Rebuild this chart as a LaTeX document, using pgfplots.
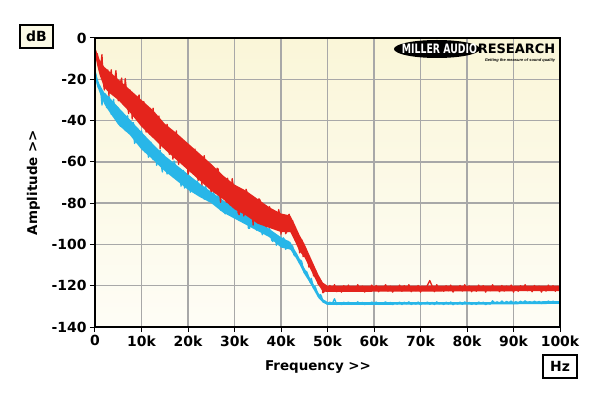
\documentclass[border=0pt]{standalone}
\usepackage{pgfplots}
\pgfplotsset{compat=1.18}
\usetikzlibrary{shapes.geometric}
\usepackage{fontspec}
\setmainfont{DejaVu Sans}
\newfontfamily\libsans{Liberation Sans}
\definecolor{tracered}{RGB}{228,36,28}
\definecolor{traceblue}{RGB}{40,182,232}
\definecolor{gridgray}{RGB}{168,168,168}
\definecolor{bgtop}{RGB}{250,246,216}
\definecolor{bgbot}{RGB}{254,253,246}
\definecolor{boxfill}{RGB}{252,250,230}
\begin{document}
\begin{tikzpicture}
\begin{axis}[
  name=ax,
  scale only axis, width=465bp, height=289bp,
  xmin=0, xmax=100, ymin=-140, ymax=0,
  xtick={0,10,20,30,40,50,60,70,80,90,100},
  xticklabels={0,10k,20k,30k,40k,50k,60k,70k,80k,90k,100k},
  ytick={-140,-120,-100,-80,-60,-40,-20,0},
  yticklabels={-140,-120,-100,-80,-60,-40,-20,0},
  tick label style={font=\bfseries\fontsize{14}{14}\selectfont},
  tick align=outside, xtick pos=bottom, ytick pos=left,
  major tick length=5bp,
  tick style={black, line width=1bp},
  grid=major,
  major grid style={gridgray, line width=1.3bp},
  axis line style={line width=1.8bp, black},
  axis background/.style={top color=bgtop, bottom color=bgbot},
  xlabel={Frequency >{}>},
  ylabel={Amplitude >{}>},
  label style={font=\bfseries\fontsize{13.5}{13.5}\selectfont},
  xlabel style={at={(axis description cs:0.4796,-0.1522)}, anchor=base},
  ylabel style={at={(axis description cs:-0.1323,0.5)}, anchor=center},
]
% blue: core band of the trace
\addplot[fill=traceblue, draw=none] coordinates {
(0,-15.5) (0.5,-19.5) (1,-22.5) (2,-26.5) (3,-28.5) (5,-33.5) (7.5,-39.5) (10,-45.5) (12.5,-51.5) (15,-57) (17.5,-61.5) (20,-66) (22.5,-70.5) (25,-74.5) (27.5,-78.5) (30,-82.5) (32.5,-85.5) (35,-88.5) (37.5,-92.5) (40,-96.5) (42,-98.8) (43,-102.8) (44,-106.8) (45,-111.3) (46,-115.3) (47,-119.3) (48,-123.3) (49,-126.5) (50,-127.9) (85,-127.9) (100,-127.4) (100,-128.8) (85,-129.1) (50,-129.3) (49,-128.2) (48,-125.8) (47,-121.8) (46,-117.8) (45,-114.3) (44,-109.8) (43,-105.8) (42,-102.5) (40,-101.5) (37.5,-96.5) (35,-93.5) (32.5,-90.5) (30,-87.5) (27.5,-84.5) (25,-80) (22.5,-77) (20,-73.5) (17.5,-69) (15,-64.5) (12.5,-59) (10,-54) (7.5,-47) (5,-42) (3,-35.5) (2,-32) (1,-26.5) (0.5,-23.5) (0,-19)
};
\addplot[traceblue, line width=1.3bp, line join=round, no markers] coordinates {
(0,-16) (0.25,-18.1) (0.5,-22.2) (0.75,-24.2) (1,-23.2) (1.25,-25.7) (1.5,-32.5) (1.75,-29.3) (2,-28) (2.25,-27.1) (2.5,-33.7) (2.75,-33.8) (3,-28.3) (3.25,-30.4) (3.5,-37) (3.75,-34.1) (4,-29.7) (4.25,-36.3) (4.5,-37.3) (4.75,-33.4) (5,-34) (5.25,-41.7) (5.5,-42.8) (5.75,-38) (6,-37.1) (6.25,-38.3) (6.5,-44.9) (6.75,-44.1) (7,-37.7) (7.25,-42.4) (7.5,-44.5) (7.75,-45.7) (8,-41.3) (8.25,-41) (8.5,-51.1) (8.75,-49.8) (9,-45.4) (9.25,-46.6) (9.5,-51.7) (9.75,-49.9) (10,-45) (10.25,-48.1) (10.5,-53.6) (10.75,-55.2) (11,-50.7) (11.25,-51.8) (11.5,-57.8) (11.75,-55.9) (12,-50.4) (12.25,-52) (12.5,-59) (12.75,-54.6) (13,-53.6) (13.25,-61.7) (13.5,-59.7) (13.75,-57.8) (14,-54.3) (14.25,-61.9) (14.5,-64.9) (14.75,-56.5) (15,-58.5) (15.25,-62.5) (15.5,-65.9) (15.75,-60.4) (16,-59.3) (16.25,-63.3) (16.5,-65.2) (16.75,-67.2) (17,-59.6) (17.25,-61.6) (17.5,-68.5) (17.75,-67.5) (18,-64.4) (18.25,-64.4) (18.5,-71.8) (18.75,-66.8) (19,-64.2) (19.25,-72.7) (19.5,-71.6) (19.75,-69.1) (20,-67) (20.25,-67.4) (20.5,-74.7) (20.75,-73.1) (21,-70.2) (21.25,-70.6) (21.5,-74.9) (21.75,-75.3) (22,-69.2) (22.25,-71.6) (22.5,-75.1) (22.75,-73.9) (23,-71.4) (23.25,-75.4) (23.5,-78.1) (23.75,-71.7) (24,-73.6) (24.25,-77.2) (24.5,-78.7) (24.75,-74.7) (25,-77) (25.25,-79.8) (25.5,-74.5) (25.75,-77.7) (26,-80.8) (26.25,-80.4) (26.5,-75.1) (26.75,-76.7) (27,-83.4) (27.25,-79.4) (27.5,-79.3) (27.75,-84.1) (28,-85.2) (28.25,-80) (28.5,-79.1) (28.75,-82.7) (29,-84.2) (29.25,-80.6) (29.5,-79.7) (29.75,-86.5) (30,-87.2) (30.25,-83.2) (30.5,-82.7) (30.75,-85.1) (31,-88.2) (31.25,-87.8) (31.5,-82.1) (31.75,-83.3) (32,-88.8) (32.25,-88) (32.5,-85.1) (32.75,-85.9) (33,-92.2) (33.25,-92.2) (33.5,-88.1) (33.75,-88.9) (34,-92) (34.25,-88.4) (34.5,-86.7) (34.75,-93.1) (35,-92.2) (35.25,-90.6) (35.5,-89.4) (35.75,-93.1) (36,-95.3) (36.25,-90.3) (36.5,-92.2) (36.75,-95) (37,-94.8) (37.25,-94.6) (37.5,-92) (37.75,-94.5) (38,-97.9) (38.25,-98.6) (38.5,-94.8) (38.75,-95.2) (39,-100.4) (39.25,-98.1) (39.5,-97.3) (39.75,-98) (40,-100.5) (40.25,-101.1) (40.5,-96.8) (40.75,-97.7) (41,-102.4) (41.25,-101.2) (41.5,-98.4) (41.75,-99.3) (42,-102.2) (42.25,-101.5) (42.5,-100.7) (42.75,-104.9) (43,-105.6) (43.25,-104.3) (43.5,-105.6) (43.75,-107.4) (44,-109.1) (44.25,-107.6) (44.5,-108.6) (44.75,-111.9) (45,-113.8) (45.25,-113) (45.5,-113.1) (45.75,-114.5) (46,-116.5) (46.25,-118.3) (46.5,-116.4) (46.75,-118.6) (47,-121.3) (47.25,-120.1) (47.5,-121.3) (47.75,-123.1) (48,-125.1) (48.25,-125.2) (48.5,-124.3) (48.75,-125.5) (49,-127.5) (49.25,-127.4) (49.5,-127.6) (49.75,-128.5) (50,-129)
(50.5,-127.9) (51,-128.9) (51.5,-126.3) (52,-129.1) (52.5,-128.3) (53,-129.2) (53.5,-128.0) (54,-128.8) (54.5,-127.9) (55,-129.1) (55.5,-128.2) (56,-129.0) (56.5,-127.8) (57,-128.9) (57.5,-128.1) (58,-129.2) (58.5,-128.4) (59,-128.9) (59.5,-127.9) (60,-128.7) (60.5,-127.9) (61,-129.1) (61.5,-128.2) (62,-128.6) (62.5,-127.8) (63,-129.0) (63.5,-128.1) (64,-129.2) (64.5,-128.3) (65,-128.9) (65.5,-127.9) (66,-129.1) (66.5,-128.0) (67,-128.8) (67.5,-127.8) (68,-129.1) (68.5,-128.4) (69,-128.9) (69.5,-127.9) (70,-129.2) (70.5,-128.2) (71,-128.7) (71.5,-127.9) (72,-129.0) (72.5,-128.1) (73,-129.1) (73.5,-127.8) (74,-128.8) (74.5,-128.3) (75,-129.1) (75.5,-128.0) (76,-128.9) (76.5,-127.9) (77,-129.2) (77.5,-128.2) (78,-128.9) (78.5,-127.9) (79,-129.0) (79.5,-127.8) (80,-128.7) (80.5,-128.1) (81,-129.1) (81.5,-128.2) (82,-129.1) (82.5,-127.9) (83,-128.6) (83.5,-128.0) (84,-129.2) (84.5,-128.2) (85,-128.9) (85.5,-127.3) (86,-128.4) (86.5,-127.8) (87,-128.6) (87.5,-127.4) (88,-128.5) (88.5,-127.6) (89,-128.3) (89.5,-127.4) (90,-128.7) (90.5,-127.7) (91,-128.6) (91.5,-127.5) (92,-128.2) (92.5,-127.3) (93,-128.4) (93.5,-127.7) (94,-128.6) (94.5,-127.4) (95,-128.4) (95.5,-127.6) (96,-128.7) (96.5,-127.8) (97,-128.5) (97.5,-127.4) (98,-128.3) (98.5,-127.5) (99,-128.6) (99.5,-127.7) (100,-128.4)
};
% red: core band of the trace
\addplot[fill=tracered, draw=none] coordinates {
(0,-4.5) (0.5,-7.5) (1,-10.5) (2,-14) (3,-16) (5,-20) (7.5,-25) (10,-30) (12.5,-35) (15,-41.5) (17.5,-46) (20,-51) (22.5,-56) (25,-61) (27.5,-66.5) (30,-71) (32.5,-74) (35,-78) (37.5,-82) (40,-85) (42,-86) (43,-90.5) (44,-95.5) (45,-99.5) (46,-104.5) (47,-109.5) (48,-114.5) (49,-118.5) (50,-120) (100,-120) (100,-122.6) (50,-123) (49,-122.8) (48,-119.5) (47,-115) (46,-110.5) (45,-106) (44,-103.5) (43,-98.5) (42,-94) (40,-94) (37.5,-92) (35,-90) (32.5,-86) (30,-83) (27.5,-78) (25,-74) (22.5,-69) (20,-64) (17.5,-59) (15,-54) (12.5,-48.5) (10,-43) (7.5,-36) (5,-30) (3,-26.5) (2,-24) (1,-18) (0.5,-13.5) (0,-8)
};
\addplot[tracered, line width=1.3bp, line join=round, no markers] coordinates {
(0,-5) (0.25,-8.1) (0.5,-7.6) (0.75,-11.7) (1,-15.8) (1.25,-13.2) (1.5,-8) (1.75,-20.2) (2,-25.2) (2.25,-19.3) (2.5,-16.6) (2.75,-15.5) (3,-28) (3.25,-18.9) (3.5,-15.4) (3.75,-27.1) (4,-25.2) (4.25,-20.1) (4.5,-15.8) (4.75,-23.5) (5,-30.4) (5.25,-28.6) (5.5,-21.2) (5.75,-19.4) (6,-32) (6.25,-28.6) (6.5,-19.6) (6.75,-25) (7,-32.8) (7.25,-36.6) (7.5,-25.2) (7.75,-29.8) (8,-39.2) (8.25,-27.8) (8.5,-30.8) (8.75,-35.4) (9,-38.4) (9.25,-28.6) (9.5,-27.6) (9.75,-40.2) (10,-38.4) (10.25,-35) (10.5,-30.8) (10.75,-38.6) (11,-45.6) (11.25,-34.2) (11.5,-36.4) (11.75,-46.6) (12,-42.4) (12.25,-39) (12.5,-34) (12.75,-42.6) (13,-48.8) (13.25,-47) (13.5,-39.6) (13.75,-37.8) (14,-53.6) (14.25,-48.6) (14.5,-44.4) (14.75,-45.8) (15,-52) (15.25,-53.3) (15.5,-41.8) (15.75,-46.3) (16,-56.4) (16.25,-49.7) (16.5,-45.4) (16.75,-58.7) (17,-55.2) (17.25,-48.5) (17.5,-45) (17.75,-55.1) (18,-61.2) (18.25,-48.1) (18.5,-53.4) (18.75,-59.5) (19,-60.8) (19.25,-56.5) (19.5,-50.6) (19.75,-55.1) (20,-66) (20.25,-64.1) (20.5,-55) (20.75,-54.7) (21,-62.4) (21.25,-61.3) (21.5,-53.8) (21.75,-58.3) (22,-67.6) (22.25,-68.9) (22.5,-58.2) (22.75,-61.9) (23,-71.2) (23.25,-58.9) (23.5,-57) (23.75,-68.7) (24,-69.2) (24.25,-65.7) (24.5,-64.6) (24.75,-72.3) (25,-74.4) (25.25,-64.5) (25.5,-63.3) (25.75,-71.8) (26,-74.6) (26.25,-63.1) (26.5,-63.5) (26.75,-72.8) (27,-79.6) (27.25,-72.1) (27.5,-69.3) (27.75,-69.8) (28,-77.4) (28.25,-79.5) (28.5,-67.9) (28.75,-72.4) (29,-80.8) (29.25,-79.7) (29.5,-68.1) (29.75,-71.8) (30,-79.4) (30.25,-76.6) (30.5,-72.9) (30.75,-84.5) (31,-85.6) (31.25,-77.2) (31.5,-75.1) (31.75,-75.5) (32,-86.2) (32.25,-82.6) (32.5,-73.3) (32.75,-75.3) (33,-82.8) (33.25,-86.4) (33.5,-76.3) (33.75,-82.3) (34,-90.6) (34.25,-79.8) (34.5,-80.1) (34.75,-85.3) (35,-88.8) (35.25,-77.9) (35.5,-78.5) (35.75,-87.8) (36,-88) (36.25,-84.7) (36.5,-83.7) (36.75,-91.2) (37,-91.4) (37.25,-84.5) (37.5,-81.7) (37.75,-83.2) (38,-91.2) (38.25,-89.7) (38.5,-83.9) (38.75,-86.6) (39,-90.4) (39.25,-92.5) (39.5,-83.1) (39.75,-85.8) (40,-95) (40.25,-89.9) (40.5,-86.5) (40.75,-88) (41,-94.8) (41.25,-93.9) (41.5,-86.3) (41.75,-85.4) (42,-92.8) (42.25,-93.8) (42.5,-88.5) (42.75,-93.6) (43,-97.7) (43.25,-98.5) (43.5,-95.7) (43.75,-97) (44,-104.1) (44.25,-99.9) (44.5,-97.9) (44.75,-105.9) (45,-105.3) (45.25,-101.6) (45.5,-103.7) (45.75,-107.4) (46,-111) (46.25,-109.3) (46.5,-109.6) (46.75,-110.3) (47,-115.1) (47.25,-115.5) (47.5,-112.8) (47.75,-114.7) (48,-119.2) (48.25,-119.1) (48.5,-117.4) (48.75,-119.4) (49,-123.4) (49.25,-123) (49.5,-120.4) (49.75,-121) (50,-122.6)
(50.5,-119.9) (51,-122.4) (51.5,-119.5) (52,-122.9) (52.5,-120.8) (53,-123.1) (53.5,-120.0) (54,-122.0) (54.5,-119.7) (55,-122.7) (55.5,-120.4) (56,-122.6) (56.5,-119.5) (57,-122.2) (57.5,-120.2) (58,-123.1) (58.5,-120.9) (59,-122.4) (59.5,-119.7) (60,-121.8) (60.5,-119.9) (61,-122.9) (61.5,-120.6) (62,-121.7) (62.5,-119.5) (63,-122.6) (63.5,-120.2) (64,-123.1) (64.5,-120.8) (65,-122.2) (65.5,-119.7) (66,-122.7) (66.5,-120.0) (67,-122.0) (67.5,-119.5) (68,-122.9) (68.5,-120.9) (69,-122.4) (69.5,-119.9) (70,-123.1) (70.5,-120.4) (71,-121.8) (71.5,-119.7) (72,-117.5) (72.5,-120.2) (73,-122.9) (73.5,-119.5) (74,-122.0) (74.5,-120.8) (75,-122.7) (75.5,-120.0) (76,-122.4) (76.5,-119.7) (77,-123.1) (77.5,-120.6) (78,-122.2) (78.5,-119.9) (79,-122.6) (79.5,-119.5) (80,-121.8) (80.5,-120.2) (81,-122.9) (81.5,-120.4) (82,-122.7) (82.5,-119.7) (83,-121.7) (83.5,-120.0) (84,-123.1) (84.5,-120.6) (85,-122.4) (85.5,-119.5) (86,-122.2) (86.5,-120.8) (87,-122.9) (87.5,-119.9) (88,-122.6) (88.5,-120.2) (89,-122.0) (89.5,-119.7) (90,-123.1) (90.5,-120.4) (91,-122.7) (91.5,-120.0) (92,-121.8) (92.5,-119.5) (93,-122.4) (93.5,-120.6) (94,-122.9) (94.5,-119.9) (95,-122.2) (95.5,-120.2) (96,-123.1) (96.5,-120.8) (97,-122.6) (97.5,-119.7) (98,-122.0) (98.5,-120.0) (99,-122.7) (99.5,-120.4) (100,-122.4)
};
\end{axis}
\begin{scope}[shift={(ax.south west)}]
  \draw[line width=1.8bp, black] (0,0) rectangle (465bp,289bp);
  \node[ellipse, fill=black, minimum width=86bp, minimum height=18bp, inner sep=0pt] at (342bp,278bp) {};
  \node[text=white, inner sep=0pt, font=\bfseries\fontsize{13}{13}\selectfont] at (344.5bp,278bp) {\scalebox{0.72}[1]{MILLER AUDIO}};
  \node[text=black, inner sep=0pt, font=\bfseries\fontsize{13}{13}\selectfont] at (421.5bp,278bp) {RESEARCH};
  \node[text=black, inner sep=0pt, font=\libsans\bfseries\itshape\fontsize{4}{4}\selectfont] at (425bp,267bp) {Getting the measure of sound quality};
  \node[draw, line width=1.5bp, fill=boxfill, minimum width=33bp, minimum height=23bp, inner sep=0pt, font=\bfseries\fontsize{14}{14}\selectfont] at (-58.5bp,290.5bp) {dB};
  \node[draw, line width=1.5bp, fill=white, minimum width=34bp, minimum height=23bp, inner sep=0pt, font=\bfseries\fontsize{14}{14}\selectfont] at (465bp,-39.5bp) {Hz};
\end{scope}
\pgfresetboundingbox
\path[use as bounding box] ([shift={(-95bp,-69bp)}]ax.south west) rectangle ([shift={(40bp,38bp)}]ax.north east);
\end{tikzpicture}
\end{document}
